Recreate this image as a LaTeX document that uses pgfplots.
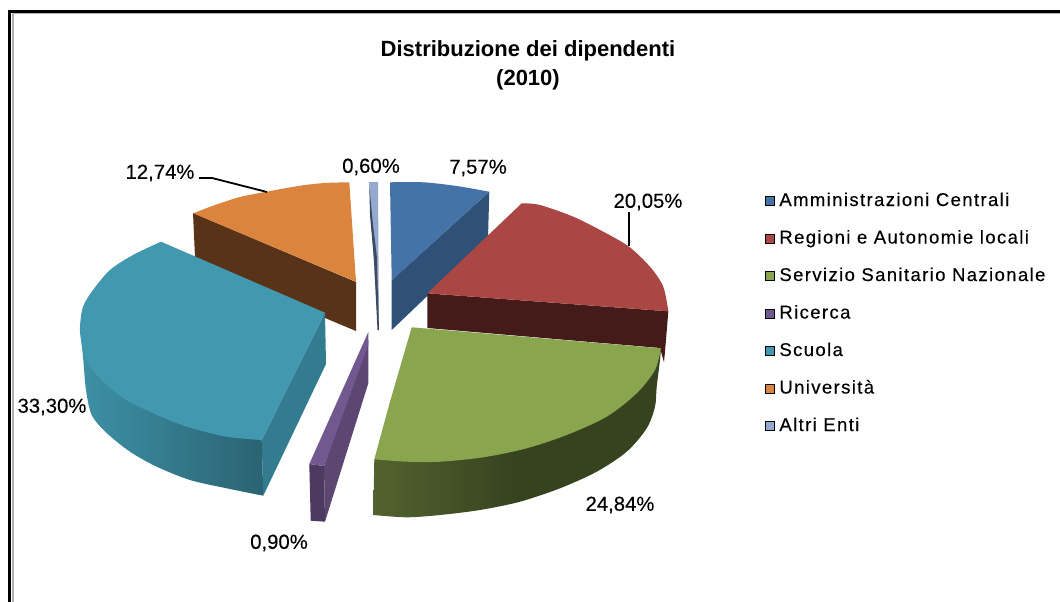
\documentclass[border=0pt]{standalone}
\usepackage{fontspec}
\setmainfont{Liberation Sans}
\usepackage{pgfplots}
\pgfplotsset{compat=1.18}
\definecolor{cBlue}{HTML}{4572A7}
\definecolor{cBlueS}{HTML}{2F5178}
\definecolor{cRed}{HTML}{AA4643}
\definecolor{cRedS}{HTML}{451B19}
\definecolor{cGreen}{HTML}{89A54E}
\definecolor{cPurple}{HTML}{71588F}
\definecolor{cPurpleM}{HTML}{5D4672}
\definecolor{cPurpleD}{HTML}{4C3A60}
\definecolor{cTeal}{HTML}{4198AF}
\definecolor{cTealS}{HTML}{337C90}
\definecolor{cOrange}{HTML}{DB843D}
\definecolor{cOrangeS}{HTML}{583318}
\definecolor{cLight}{HTML}{93A9CF}
\definecolor{cLightS}{HTML}{3D4A60}
\newcommand{\lab}[1]{\fontsize{20.3}{22}\selectfont\addfontfeature{FakeBold=0.2} #1}
\begin{document}
\begin{tikzpicture}
\begin{axis}[
  scale only axis, width=1060pt, height=602pt,
  xmin=0, xmax=1060, ymin=0, ymax=602, y dir=reverse,
  axis lines=none,
  legend image code/.code={\fill[#1] (0pt,-4.5pt) rectangle (9pt,4.5pt);},
  legend cell align=left,
  legend style={at={(axis cs:765,192)}, anchor=north west, draw=none, fill=none,
    inner sep=0pt, outer sep=0pt, row sep=19.5pt, column sep=5pt,
    font=\fontsize{18.5}{20}\selectfont\addfontfeature{LetterSpace=7.5,FakeBold=0.3},
    nodes={text height=14pt, text depth=4pt, inner sep=0pt}},
]
\path (axis cs:0,0) rectangle (axis cs:1060,602);
% legend
\addlegendimage{fill=cBlue}\addlegendentry{Amministrazioni Centrali}
\addlegendimage{fill=cRed}\addlegendentry{Regioni e Autonomie locali}
\addlegendimage{fill=cGreen}\addlegendentry{Servizio Sanitario Nazionale}
\addlegendimage{fill=cPurple}\addlegendentry{Ricerca}
\addlegendimage{fill=cTeal}\addlegendentry{Scuola}
\addlegendimage{fill=cOrange}\addlegendentry{Università}
\addlegendimage{fill=cLight}\addlegendentry{Altri Enti}
% frame
\addplot[forget plot, draw=black!30, line width=2pt] coordinates {(12.5,602)(12.5,13.5)(1060,13.5)};
\addplot[forget plot, draw=black, line width=2.6pt] coordinates {(9.5,602)(9.5,11.3)(1060,11.3)};
% Università
\addplot[forget plot, fill=cOrangeS, draw=none] coordinates {(193,213)(356,282)(356,331)(325,318)(195,257)} --cycle;
\addplot[forget plot, fill=cOrange, draw=none, smooth, tension=0.5] coordinates {(193.3,213.3)(215,205)(240,197)(266.7,191.7)(300,185.7)(325,183)(349.3,182.3)} -- (axis cs:356,281.7) --cycle;
% Altri Enti
\addplot[forget plot, fill=cLight, draw=none] coordinates {(369,182)(378,182)(379,330)(378,330)} --cycle;
\addplot[forget plot, fill=cLightS, draw=none] coordinates {(369.3,186)(373,225)(376.7,255)(379,330)(377.5,330)(374,260)(370,215)} --cycle;
% Amministrazioni Centrali
\addplot[forget plot, fill=cBlueS, draw=none] coordinates {(489.3,191.7)(488,238)(391.7,330)(391.7,280)} --cycle;
\addplot[forget plot, fill=cBlue, draw=none, smooth, tension=0.5] coordinates {(390,182.3)(423.3,182.3)(456.7,186)(489.3,191.7)} -- (axis cs:391.7,280) --cycle;
% Regioni
\addplot[forget plot, fill=cRedS, draw=none] coordinates {(427.3,293.3)(668.3,311.3)(666,340)(664,362.3)(660,348)(427.3,328)} --cycle;
\addplot[forget plot, fill=cRed, draw=none, smooth, tension=0.5] coordinates {(521.7,203.3)(540,205)(573.3,216.7)(603.3,231.7)(629,246.7)(650,266.7)(663.3,286.7)(668.3,311.3)} -- (axis cs:427.3,293.3) --cycle;
% Servizio Sanitario Nazionale
\addplot[forget plot, draw=none, left color=cGreen!60!black, right color=cGreen!40!black, middle color=cGreen!40!black, smooth, tension=0.5] coordinates {(373.3,515)(406.7,517.3)(440,515)(480,510)(520,501.7)(560,488.3)(596.7,471.7)(626.7,451.7)(646.7,428.3)(655,406.7)(656.7,386.7)(660,360)(661,348.3)} -- (axis cs:374.3,459.3) --cycle;
\addplot[forget plot, fill=cGreen, draw=none, smooth, tension=0.5] coordinates {(661,348.3)(655,370)(636.7,393.3)(606.7,416.7)(566.7,435)(526.7,448.3)(483.3,457.3)(440,461.7)(406.7,461.7)(374.3,459.3)} -- (axis cs:390,401.7) -- (axis cs:411.7,327.3) --cycle;
% Ricerca
\addplot[forget plot, fill=cPurpleM, draw=none] coordinates {(368.3,340)(368.3,383.3)(325,521.7)(324,466)} --cycle;
\addplot[forget plot, fill=cPurpleD, draw=none] coordinates {(309.3,464)(324,466)(325,521.7)(310.7,520.7)} --cycle;
\addplot[forget plot, fill=cPurple, draw=none] coordinates {(368.3,332)(368.3,345)(324,466)(309.3,464)} --cycle;
% Scuola
\addplot[forget plot, fill=cTealS, draw=none] coordinates {(325,312.7)(326,364)(263.3,495.7)(261.7,440)} --cycle;
\addplot[forget plot, draw=none, left color=cTeal!95!black, right color=cTeal!65!black, smooth, tension=0.5] coordinates {(263.3,495.7)(226.7,488.3)(190,480)(156.7,466.7)(130,451.7)(106.7,433)(91.7,415)(86,390)(83.3,360)(81,335)} -- (axis cs:261.7,440) --cycle;
\addplot[forget plot, fill=cTeal, draw=none, smooth, tension=0.5] coordinates {(261.7,440)(226.7,436.7)(186.7,426.7)(153.3,413.3)(123.3,398.3)(100,378.3)(85,358.3)(81,340)(80,326.7)(83,306.7)(93,290)(110,270)(133,255)(161,241.7)} -- (axis cs:325,312.7) --cycle;
% leaders
\addplot[forget plot, draw=black, line width=1.8pt] coordinates {(199,178)(212,178)(267,192)};
\addplot[forget plot, draw=black, line width=1.8pt] coordinates {(629,212)(629,246)};
% labels
\node at (axis cs:478,168) {\lab{7,57\%}};
\node at (axis cs:648,202) {\lab{20,05\%}};
\node at (axis cs:620,505) {\lab{24,84\%}};
\node at (axis cs:279,543) {\lab{0,90\%}};
\node at (axis cs:52,407) {\lab{33,30\%}};
\node at (axis cs:160,173) {\lab{12,74\%}};
\node at (axis cs:371,167) {\lab{0,60\%}};
\node at (axis cs:528,51) {\fontsize{22}{24}\selectfont\bfseries Distribuzione dei dipendenti};
\node at (axis cs:528,80) {\fontsize{22}{24}\selectfont\bfseries (2010)};
\end{axis}
\end{tikzpicture}
\end{document}
